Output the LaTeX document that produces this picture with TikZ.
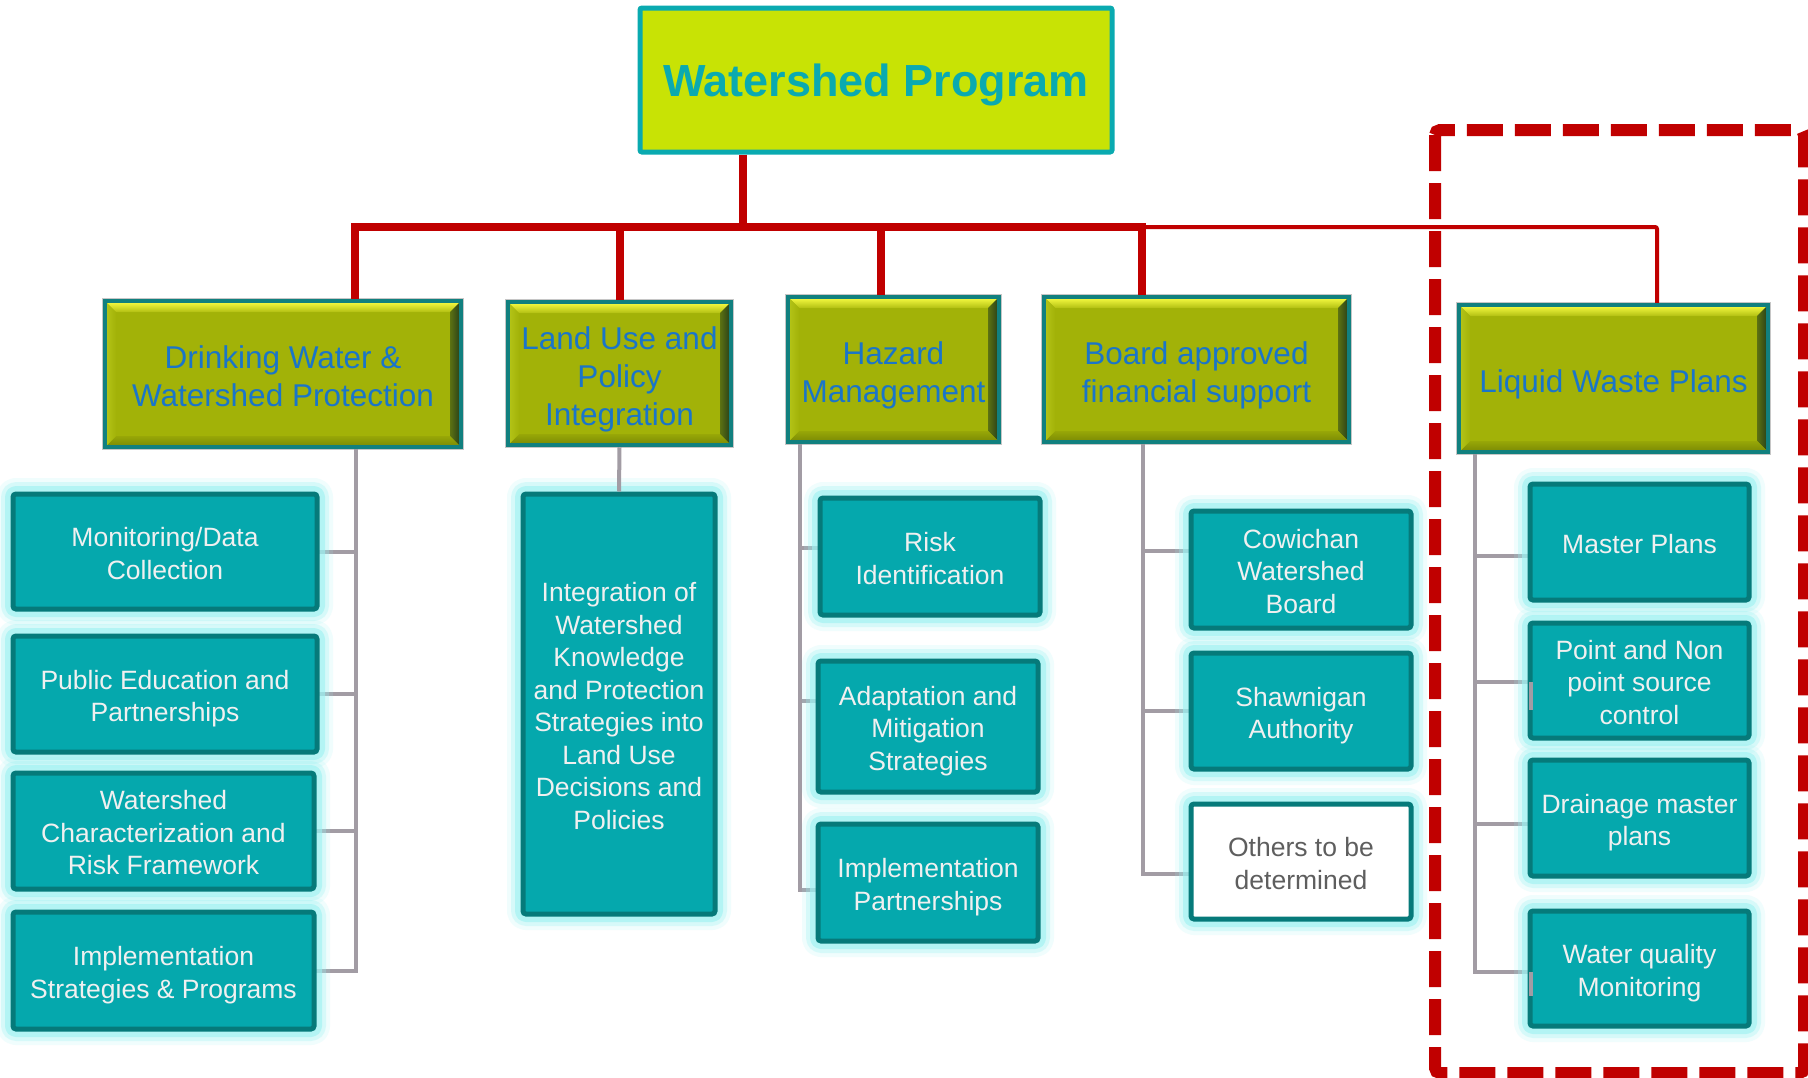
\documentclass[tikz,border=0pt]{standalone}
\usepackage{fontspec}
\setmainfont{Liberation Sans}
\definecolor{lime}{HTML}{C8E305}
\definecolor{topteal}{HTML}{0AAAB0}
\definecolor{olive}{HTML}{A2B208}
\definecolor{oliveedge}{HTML}{11807F}
\definecolor{bevtop}{HTML}{EEF43C}
\definecolor{bevright}{HTML}{2E4618}
\definecolor{bevbottom}{HTML}{7F8E05}
\definecolor{bevleft}{HTML}{B2C216}
\definecolor{hdblue}{HTML}{1A75C9}
\definecolor{tealfill}{HTML}{05A8AD}
\definecolor{tealedge}{HTML}{067A7A}
\definecolor{glow}{HTML}{9CF2F2}
\definecolor{linkgray}{HTML}{A29CA4}
\definecolor{redline}{HTML}{C00000}
\definecolor{othertext}{HTML}{5E5E5E}
% centred lines on uniform struts; the optional value adds room above,
% which lowers the text block by half of it inside its box
\newcommand\lines[2][9.8pt]{\raisebox{0pt}[\dimexpr\height+#1\relax][\depth]{%
  \begin{tabular}{@{}c@{}}#2\end{tabular}}}
\tikzset{
  every node/.style={inner sep=0pt},
  topbox/.style={draw=topteal, line width=5pt, fill=lime, text=topteal,
    font=\fontsize{45}{54}\selectfont\bfseries, rounded corners=2pt},
  bevel/.style={path picture={
    \path ([shift={(2pt,-2pt)}]path picture bounding box.north west) coordinate (pNW)
          ([shift={(-2pt,-2pt)}]path picture bounding box.north east) coordinate (pNE)
          ([shift={(-2pt,2pt)}]path picture bounding box.south east) coordinate (pSE)
          ([shift={(2pt,2pt)}]path picture bounding box.south west) coordinate (pSW);
    \shade[top color=bevtop, bottom color=olive!80!bevtop]
      (pNW) -- (pNE) -- ([shift={(-9pt,-9pt)}]pNE) -- ([shift={(9pt,-9pt)}]pNW) -- cycle;
    \shade[left color=olive!40!bevright, right color=bevright]
      (pNE) -- (pSE) -- ([shift={(-9pt,9pt)}]pSE) -- ([shift={(-9pt,-9pt)}]pNE) -- cycle;
    \shade[top color=olive!70!bevbottom, bottom color=bevbottom]
      (pSE) -- (pSW) -- ([shift={(9pt,9pt)}]pSW) -- ([shift={(-9pt,9pt)}]pSE) -- cycle;
    \shade[left color=bevleft, right color=olive]
      (pSW) -- (pNW) -- ([shift={(9pt,-9pt)}]pNW) -- ([shift={(9pt,9pt)}]pSW) -- cycle;
  }},
  headbox/.style={preaction={draw=gray!45, line width=6.5pt},
    draw=oliveedge, line width=4.5pt, fill=olive, bevel, text=hdblue,
    font=\fontsize{31.5}{38}\selectfont},
  glowing/.style={
    preaction={draw=glow, line width=32pt, opacity=0.15, line join=round},
    preaction={draw=glow, line width=24pt, opacity=0.3, line join=round},
    preaction={draw=glow, line width=16pt, opacity=0.6, line join=round}},
  leafbox/.style={glowing, draw=tealedge, line width=5pt, fill=tealfill,
    text=white!94!black, font=\fontsize{26.5}{32.5}\selectfont, rounded corners=3pt},
  otherbox/.style={leafbox, fill=white, text=othertext},
  bus/.style={draw=redline, line width=8pt},
  thinbus/.style={draw=redline, line width=4pt, rounded corners=2pt},
  link/.style={draw=linkgray, line width=4pt},
  groupframe/.style={draw=redline, line width=12pt, dash pattern=on 36pt off 12pt, rounded corners=5pt}
}
\begin{document}
\begin{tikzpicture}[x=1pt, y=-1pt]
\useasboundingbox (0,0) rectangle (1808,1077);
\fill[white] (0,0) rectangle (1808,1077);
\clip (0,0) rectangle (1808,1077);

% junction points on the red bus
\coordinate (j0) at (743,227);
\coordinate (j1) at (355,227);
\coordinate (j2) at (620,227);
\coordinate (j3) at (881,227);
\coordinate (j4) at (1142,227);
\coordinate (j5) at (1657,227);
% gray trunks below the heading boxes
\coordinate (t1) at (356,447);
\coordinate (t3) at (800,442);
\coordinate (t4) at (1143,442);
\coordinate (t5) at (1475,452);

% top and heading boxes
\node[topbox, minimum width=472pt, minimum height=144pt] (top) at (876,80) {\lines[11pt]{Watershed Program}};
\node[headbox, minimum width=356pt, minimum height=146pt] (dw) at (283,374) {\lines[12.6pt]{Drinking Water \&\\Watershed Protection}};
\node[headbox, minimum width=223pt, minimum height=143pt] (lu) at (619.5,373.5) {\lines[12.6pt]{Land Use and\\Policy\\Integration}};
\node[headbox, minimum width=211pt, minimum height=145pt] (hz) at (893.5,369.5) {\lines[12.6pt]{Hazard\\Management}};
\node[headbox, minimum width=305pt, minimum height=145pt] (bd) at (1196.5,369.5) {\lines[12.6pt]{Board approved\\financial support}};
\node[headbox, minimum width=309pt, minimum height=147pt] (lw) at (1613.5,378.5) {\lines[12.6pt]{Liquid Waste Plans}};

% red bus
\path[bus] (top.south -| j0) -- (j0);
\path[bus] (j1 |- dw.north) -- (j1) -- (j4) -- (j4 |- bd.north);
\path[bus] (j2) -- (j2 |- lu.north);
\path[bus] (j3) -- (j3 |- hz.north);
\path[thinbus] (j4) -- (j5) -- (j5 |- lw.north);

% connectors
\coordinate (m1s) at (317,551.5);
\coordinate (m2s) at (317,694);
\coordinate (m3s) at (314,831);
\coordinate (m4s) at (314,970.5);
\path[link] (dw.south -| t1) -- (t1 |- m4s) -- (m4s);
\path[link] (m1s) -- (m1s -| t1);
\path[link] (m2s) -- (m2s -| t1);
\path[link] (m3s) -- (m3s -| t1);

\coordinate (h1s) at (820,548);
\coordinate (h2s) at (818,701);
\coordinate (h3s) at (818,890);
\path[link] (hz.south -| t3) -- (t3 |- h3s) -- (h3s);
\path[link] (h1s) -- (h1s -| t3);
\path[link] (h2s) -- (h2s -| t3);

\coordinate (b1s) at (1191,551);
\coordinate (b2s) at (1191,711);
\coordinate (b3s) at (1191,874);
\path[link] (bd.south -| t4) -- (t4 |- b3s) -- (b3s);
\path[link] (b1s) -- (b1s -| t4);
\path[link] (b2s) -- (b2s -| t4);

\coordinate (w1s) at (1530,556);
\coordinate (w2s) at (1530,682);
\coordinate (w3s) at (1530,824);
\coordinate (w4s) at (1530,972);
\path[link] (lw.south -| t5) -- (t5 |- w4s) -- (w4s);
\path[link] (w1s) -- (w1s -| t5);
\path[link] (w2s) -- (w2s -| t5);
\path[link] (w3s) -- (w3s -| t5);

% leaf boxes
\node[leafbox, minimum width=304pt, minimum height=115pt] (m1) at (165,551.5) {\lines{Monitoring/Data\\Collection}};
\node[leafbox, minimum width=304pt, minimum height=116pt] (m2) at (165,694) {\lines{Public Education and\\Partnerships}};
\node[leafbox, minimum width=301pt, minimum height=116pt] (m3) at (163.5,831) {\lines{Watershed\\Characterization and\\Risk Framework}};
\node[leafbox, minimum width=301pt, minimum height=117pt] (m4) at (163.5,970.5) {\lines{Implementation\\Strategies \& Programs}};

\node[leafbox, minimum width=192pt, minimum height=420pt] (l1) at (619,704)
  {\lines{Integration of\\Watershed\\Knowledge\\and Protection\\Strategies into\\Land Use\\Decisions and\\Policies}};
\path[link] (lu.south) -- (l1.north);

\node[leafbox, minimum width=220pt, minimum height=117pt] (h1) at (930,556.5) {\lines{Risk\\Identification}};
\node[leafbox, minimum width=220pt, minimum height=131pt] (h2) at (928,726.5) {\lines{Adaptation and\\Mitigation\\Strategies}};
\node[leafbox, minimum width=220pt, minimum height=117pt] (h3) at (928,882.5) {\lines{Implementation\\Partnerships}};

\node[leafbox, minimum width=220pt, minimum height=117pt] (b1) at (1301,569.5) {\lines{Cowichan\\Watershed\\Board}};
\node[leafbox, minimum width=220pt, minimum height=116pt] (b2) at (1301,711) {\lines{Shawnigan\\Authority}};
\node[otherbox, minimum width=220pt, minimum height=115pt] (b3) at (1301,861.5) {\lines{Others to be\\determined}};

\node[leafbox, minimum width=219pt, minimum height=116pt] (w1) at (1639.5,542) {\lines{Master Plans}};
\node[leafbox, minimum width=219pt, minimum height=115pt] (w2) at (1639.5,680.5) {\lines{Point and Non\\point source\\control}};
\node[leafbox, minimum width=219pt, minimum height=116pt] (w3) at (1639.5,818) {\lines{Drainage master\\plans}};
\node[leafbox, minimum width=219pt, minimum height=115pt] (w4) at (1639.5,968.5) {\lines{Water quality\\Monitoring}};

% short bends along the left edge of two boxes
\path[link] ([xshift=1pt]w2s) -- ++(0pt,-28pt);
\path[link] ([xshift=1pt]w4s) -- ++(0pt,-24pt);

% dashed group frame around the liquid waste branch
\path[groupframe] (1435,130) rectangle (1804,1073);
\end{tikzpicture}
\end{document}
